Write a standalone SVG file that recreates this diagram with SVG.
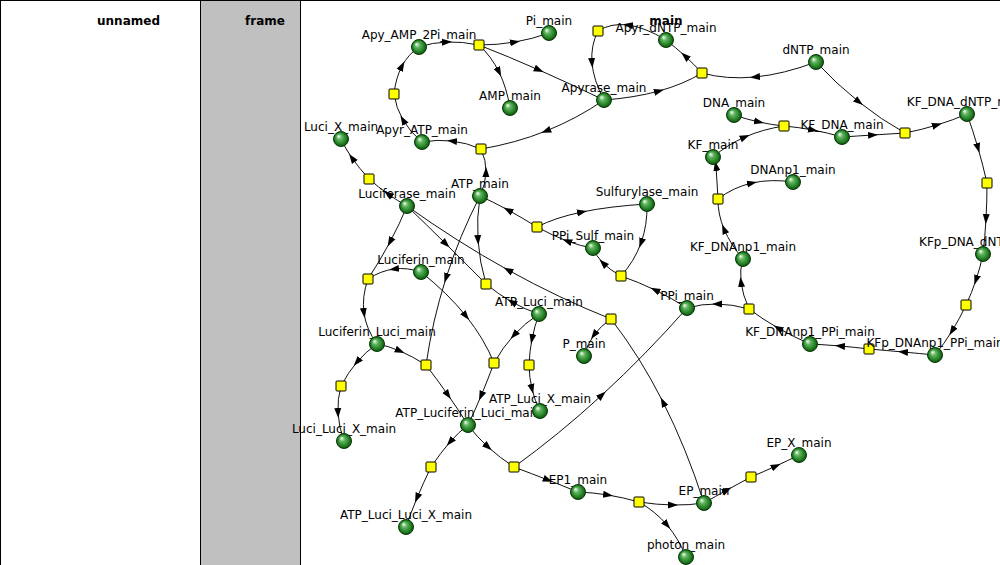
<svg xmlns="http://www.w3.org/2000/svg" width="1000" height="565" viewBox="0 0 1000 565">
<style>
.hdr{font-family:"DejaVu Sans","Liberation Sans",sans-serif;font-size:12px;font-weight:bold;fill:#000}
.lbl{font-family:"DejaVu Sans","Liberation Sans",sans-serif;font-size:12px;fill:#000;text-anchor:middle}
.e{fill:none;stroke:#111;stroke-width:1;marker-mid:url(#arr)}
.r{fill:#ffff00;stroke:#000;stroke-width:1}
.s{fill:url(#sph);stroke:#0a3a0a;stroke-width:1}
</style>
<defs>
<marker id="arr" viewBox="0 0 10 10" refX="5" refY="5" markerWidth="10" markerHeight="10" markerUnits="userSpaceOnUse" orient="auto">
<path d="M0,1.5 L10,5 L0,8.5 z" fill="#000"/>
</marker>
<radialGradient id="sph" cx="0.5" cy="0.5" r="0.5" fx="0.32" fy="0.3">
<stop offset="0" stop-color="#ffffff"/>
<stop offset="0.35" stop-color="#5fb55f"/>
<stop offset="0.8" stop-color="#1f7a1f"/>
<stop offset="1" stop-color="#0f4f0f"/>
</radialGradient>
</defs>
<g id="panels">
<rect x="0.5" y="0.5" width="200" height="600" fill="#ffffff" stroke="#000"/>
<rect x="200.5" y="0.5" width="100" height="600" fill="#c0c0c0" stroke="#000"/>
<rect x="300.5" y="0.5" width="800" height="600" fill="#ffffff" stroke="#000"/>
<text class="hdr" x="160" y="25" text-anchor="end">unnamed</text>
<text class="hdr" x="285" y="25" text-anchor="end">frame</text>
</g>
<g id="connectors">
<path class="e" d="M419,47 Q432,42.5 447,42 T479,45"/>
<path class="e" d="M479,45 Q497.5,45 515,42 T549,33"/>
<path class="e" d="M479,45 Q491.25,56.25 499,72 T510,108"/>
<path class="e" d="M479,45 Q507.75,56.25 539,70 T604,100"/>
<path class="e" d="M422,142 Q410,132 403,120 T394,94"/>
<path class="e" d="M394,94 Q395.75,77.75 402,66 T419,47"/>
<path class="e" d="M480,196 Q485.75,183.75 486,172 T481,149"/>
<path class="e" d="M604,100 Q576.75,118.75 546,131 T481,149"/>
<path class="e" d="M481,149 Q466.75,142.75 452,141 T422,142"/>
<path class="e" d="M666,40 Q645,27.25 628,25 T598,31"/>
<path class="e" d="M598,31 Q590.5,45.75 592,63 T604,100"/>
<path class="e" d="M816,62 Q783.5,74.25 755,77 T702,73"/>
<path class="e" d="M604,100 Q634.5,97.75 659,91 T702,73"/>
<path class="e" d="M702,73 Q694,64.25 685,56 T666,40"/>
<path class="e" d="M816,62 Q836.75,84.25 859,102 T905,133"/>
<path class="e" d="M734,115 Q746.5,119.25 759,122 T784,126"/>
<path class="e" d="M713,157 Q727.25,144.75 745,137 T784,126"/>
<path class="e" d="M784,126 Q798.5,127.25 813,130 T842,137"/>
<path class="e" d="M842,137 Q857.25,136 873,135 T905,133"/>
<path class="e" d="M905,133 Q921.5,129.75 937,125 T967,114"/>
<path class="e" d="M967,114 Q973,130.75 978,148 T987,183"/>
<path class="e" d="M987,183 Q987,201.25 986,219 T983,254"/>
<path class="e" d="M983,254 Q980.25,267.25 976,280 T966,305"/>
<path class="e" d="M966,305 Q959.75,318.5 952,331 T935,355"/>
<path class="e" d="M935,355 Q919.5,353.5 903,352 T869,349"/>
<path class="e" d="M869,349 Q854.75,347.25 840,346 T810,344"/>
<path class="e" d="M810,344 Q793.25,336.75 778,328 T749,309"/>
<path class="e" d="M749,309 Q732.5,304.25 717,304 T687,308"/>
<path class="e" d="M749,309 Q742.5,294.5 741,282 T743,259"/>
<path class="e" d="M743,259 Q730.25,244 724,229 T718,199"/>
<path class="e" d="M718,199 L716,166 L713,157"/>
<path class="e" d="M718,199 Q733.25,187.25 752,183 T793,182"/>
<path class="e" d="M647,204 Q647.5,225 641,243 T621,276"/>
<path class="e" d="M687,308 Q671.5,298 655,290 T621,276"/>
<path class="e" d="M621,276 Q610,270 603,263 T593,248"/>
<path class="e" d="M593,248 Q581,246.25 567,241 T537,227"/>
<path class="e" d="M537,227 Q522.25,217.75 508,210 T480,196"/>
<path class="e" d="M537,227 Q554.5,217.75 582,212 T647,204"/>
<path class="e" d="M480,196 Q476.5,218 478,240 T486,284"/>
<path class="e" d="M407,206 Q426.25,224.5 446,244 T486,284"/>
<path class="e" d="M539,314 Q525.25,309.5 512,302 T486,284"/>
<path class="e" d="M407,206 Q399.75,223.75 390,242 T368,279"/>
<path class="e" d="M421,272 Q407.25,267.25 394,269 T368,279"/>
<path class="e" d="M368,279 Q361.75,296.75 364,313 T377,344"/>
<path class="e" d="M377,344 Q387.75,345.75 400,351 T426,365"/>
<path class="e" d="M480,196 Q459.5,235.75 446,278 T426,365"/>
<path class="e" d="M426,365 Q437.5,380 448,395 T468,425"/>
<path class="e" d="M421,272 Q447.75,293.25 466,316 T494,363"/>
<path class="e" d="M539,314 Q525.25,322.75 514,335 T494,363"/>
<path class="e" d="M494,363 Q487.5,380.5 481,396 T468,425"/>
<path class="e" d="M539,314 Q534.5,326.25 532,339 T529,365"/>
<path class="e" d="M529,365 Q529.25,377.5 532,389 T540,411"/>
<path class="e" d="M407,206 Q397.5,200.75 388,194 T369,179"/>
<path class="e" d="M369,179 Q359,168 352,158 T341,139"/>
<path class="e" d="M377,344 Q366,351.5 357,362 T341,386"/>
<path class="e" d="M341,386 Q337.25,399.25 338,413 T344,441"/>
<path class="e" d="M468,425 Q459.25,431.5 450,442 T431,467"/>
<path class="e" d="M431,467 Q423.25,483 417,498 T406,527"/>
<path class="e" d="M468,425 Q476.5,436.5 488,447 T514,467"/>
<path class="e" d="M514,467 Q532,473.75 548,480 T578,492"/>
<path class="e" d="M514,467 Q558.75,434.75 602,395 T687,308"/>
<path class="e" d="M611,319 Q559,298.25 508,270 T407,206"/>
<path class="e" d="M611,319 Q600.75,325.75 594,335 T584,356"/>
<path class="e" d="M704,503 Q686.25,448 663,402 T611,319"/>
<path class="e" d="M578,492 Q592.75,492.5 608,495 T639,502"/>
<path class="e" d="M639,502 Q656.75,504.75 673,505 T704,503"/>
<path class="e" d="M639,502 Q655.25,511.25 667,525 T686,557"/>
<path class="e" d="M704,503 Q715.25,496.5 727,490 T751,477"/>
<path class="e" d="M751,477 Q764,471.5 776,466 T799,455"/>
</g>
<g id="reactions">
<rect id="R1" class="r" x="474" y="40" width="10" height="10" rx="1"/>
<rect id="R2" class="r" x="389" y="89" width="10" height="10" rx="1"/>
<rect id="R3" class="r" x="476" y="144" width="10" height="10" rx="1"/>
<rect id="R4" class="r" x="593" y="26" width="10" height="10" rx="1"/>
<rect id="R5" class="r" x="697" y="68" width="10" height="10" rx="1"/>
<rect id="R6" class="r" x="779" y="121" width="10" height="10" rx="1"/>
<rect id="R7" class="r" x="713" y="194" width="10" height="10" rx="1"/>
<rect id="R8" class="r" x="900" y="128" width="10" height="10" rx="1"/>
<rect id="R9" class="r" x="982" y="178" width="10" height="10" rx="1"/>
<rect id="R10" class="r" x="961" y="300" width="10" height="10" rx="1"/>
<rect id="R11" class="r" x="864" y="344" width="10" height="10" rx="1"/>
<rect id="R12" class="r" x="744" y="304" width="10" height="10" rx="1"/>
<rect id="R13" class="r" x="616" y="271" width="10" height="10" rx="1"/>
<rect id="R14" class="r" x="532" y="222" width="10" height="10" rx="1"/>
<rect id="R15" class="r" x="481" y="279" width="10" height="10" rx="1"/>
<rect id="R16" class="r" x="363" y="274" width="10" height="10" rx="1"/>
<rect id="R17" class="r" x="421" y="360" width="10" height="10" rx="1"/>
<rect id="R18" class="r" x="489" y="358" width="10" height="10" rx="1"/>
<rect id="R19" class="r" x="524" y="360" width="10" height="10" rx="1"/>
<rect id="R20" class="r" x="364" y="174" width="10" height="10" rx="1"/>
<rect id="R21" class="r" x="336" y="381" width="10" height="10" rx="1"/>
<rect id="R22" class="r" x="426" y="462" width="10" height="10" rx="1"/>
<rect id="R23" class="r" x="509" y="462" width="10" height="10" rx="1"/>
<rect id="R24" class="r" x="606" y="314" width="10" height="10" rx="1"/>
<rect id="R25" class="r" x="634" y="497" width="10" height="10" rx="1"/>
<rect id="R26" class="r" x="746" y="472" width="10" height="10" rx="1"/>
</g>
<g id="Apy_AMP_2Pi_main"><text class="lbl" x="419" y="39">Apy_AMP_2Pi_main</text><circle class="s" cx="419" cy="47" r="7.5"/></g>
<g id="Pi_main"><text class="lbl" x="549" y="25">Pi_main</text><circle class="s" cx="549" cy="33" r="7.5"/></g>
<g id="AMP_main"><text class="lbl" x="510" y="100">AMP_main</text><circle class="s" cx="510" cy="108" r="7.5"/></g>
<g id="Apyrase_main"><text class="lbl" x="604" y="92">Apyrase_main</text><circle class="s" cx="604" cy="100" r="7.5"/></g>
<g id="Apyr_ATP_main"><text class="lbl" x="422" y="134">Apyr_ATP_main</text><circle class="s" cx="422" cy="142" r="7.5"/></g>
<g id="Luci_X_main"><text class="lbl" x="341" y="131">Luci_X_main</text><circle class="s" cx="341" cy="139" r="7.5"/></g>
<g id="Apyr_dNTP_main"><text class="lbl" x="666" y="32">Apyr_dNTP_main</text><circle class="s" cx="666" cy="40" r="7.5"/></g>
<g id="dNTP_main"><text class="lbl" x="816" y="54">dNTP_main</text><circle class="s" cx="816" cy="62" r="7.5"/></g>
<g id="DNA_main"><text class="lbl" x="734" y="107">DNA_main</text><circle class="s" cx="734" cy="115" r="7.5"/></g>
<g id="KF_DNA_main"><text class="lbl" x="842" y="129">KF_DNA_main</text><circle class="s" cx="842" cy="137" r="7.5"/></g>
<g id="KF_DNA_dNTP_main"><text class="lbl" x="967" y="106">KF_DNA_dNTP_main</text><circle class="s" cx="967" cy="114" r="7.5"/></g>
<g id="KF_main"><text class="lbl" x="713" y="149">KF_main</text><circle class="s" cx="713" cy="157" r="7.5"/></g>
<g id="DNAnp1_main"><text class="lbl" x="793" y="174">DNAnp1_main</text><circle class="s" cx="793" cy="182" r="7.5"/></g>
<g id="Sulfurylase_main"><text class="lbl" x="647" y="196">Sulfurylase_main</text><circle class="s" cx="647" cy="204" r="7.5"/></g>
<g id="KF_DNAnp1_main"><text class="lbl" x="743" y="251">KF_DNAnp1_main</text><circle class="s" cx="743" cy="259" r="7.5"/></g>
<g id="PPi_Sulf_main"><text class="lbl" x="593" y="240">PPi_Sulf_main</text><circle class="s" cx="593" cy="248" r="7.5"/></g>
<g id="PPi_main"><text class="lbl" x="687" y="300">PPi_main</text><circle class="s" cx="687" cy="308" r="7.5"/></g>
<g id="KF_DNAnp1_PPi_main"><text class="lbl" x="810" y="336">KF_DNAnp1_PPi_main</text><circle class="s" cx="810" cy="344" r="7.5"/></g>
<g id="KFp_DNAnp1_PPi_main"><text class="lbl" x="935" y="347">KFp_DNAnp1_PPi_main</text><circle class="s" cx="935" cy="355" r="7.5"/></g>
<g id="KFp_DNA_dNTP_main"><text class="lbl" x="983" y="246">KFp_DNA_dNTP_main</text><circle class="s" cx="983" cy="254" r="7.5"/></g>
<g id="P_main"><text class="lbl" x="584" y="348">P_main</text><circle class="s" cx="584" cy="356" r="7.5"/></g>
<g id="Luciferase_main"><text class="lbl" x="407" y="198">Luciferase_main</text><circle class="s" cx="407" cy="206" r="7.5"/></g>
<g id="ATP_main"><text class="lbl" x="480" y="188">ATP_main</text><circle class="s" cx="480" cy="196" r="7.5"/></g>
<g id="Luciferin_main"><text class="lbl" x="421" y="264">Luciferin_main</text><circle class="s" cx="421" cy="272" r="7.5"/></g>
<g id="ATP_Luci_main"><text class="lbl" x="539" y="306">ATP_Luci_main</text><circle class="s" cx="539" cy="314" r="7.5"/></g>
<g id="Luciferin_Luci_main"><text class="lbl" x="377" y="336">Luciferin_Luci_main</text><circle class="s" cx="377" cy="344" r="7.5"/></g>
<g id="Luci_Luci_X_main"><text class="lbl" x="344" y="433">Luci_Luci_X_main</text><circle class="s" cx="344" cy="441" r="7.5"/></g>
<g id="ATP_Luciferin_Luci_main"><text class="lbl" x="468" y="417">ATP_Luciferin_Luci_main</text><circle class="s" cx="468" cy="425" r="7.5"/></g>
<g id="ATP_Luci_X_main"><text class="lbl" x="540" y="403">ATP_Luci_X_main</text><circle class="s" cx="540" cy="411" r="7.5"/></g>
<g id="ATP_Luci_Luci_X_main"><text class="lbl" x="406" y="519">ATP_Luci_Luci_X_main</text><circle class="s" cx="406" cy="527" r="7.5"/></g>
<g id="EP1_main"><text class="lbl" x="578" y="484">EP1_main</text><circle class="s" cx="578" cy="492" r="7.5"/></g>
<g id="EP_main"><text class="lbl" x="704" y="495">EP_main</text><circle class="s" cx="704" cy="503" r="7.5"/></g>
<g id="EP_X_main"><text class="lbl" x="799" y="447">EP_X_main</text><circle class="s" cx="799" cy="455" r="7.5"/></g>
<g id="photon_main"><text class="lbl" x="686" y="549">photon_main</text><circle class="s" cx="686" cy="557" r="7.5"/></g>
<text class="hdr" x="666" y="25" text-anchor="middle">main</text>
</svg>
